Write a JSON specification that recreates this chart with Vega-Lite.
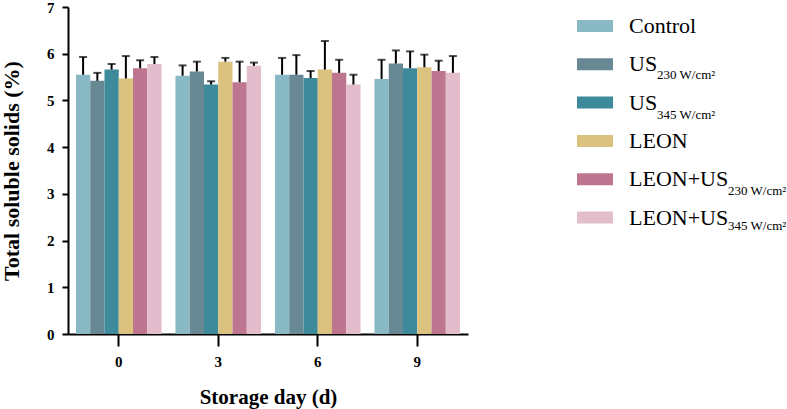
{
  "$schema": "https://vega.github.io/schema/vega-lite/v6.json",
  "width": 400,
  "height": 327,
  "padding": {"left": 0, "top": 0, "right": 5, "bottom": 5},
  "background": "white",
  "data": {
    "values": [
      {"day": "0", "treatment": "Control", "tsub": "Control", "mean": 5.55, "upper": 5.93},
      {"day": "0", "treatment": "US230", "tsub": "US230", "mean": 5.42, "upper": 5.59},
      {"day": "0", "treatment": "US345", "tsub": "US345", "mean": 5.66, "upper": 5.78},
      {"day": "0", "treatment": "LEON", "tsub": "LEON", "mean": 5.47, "upper": 5.95},
      {"day": "0", "treatment": "LEON+US230", "tsub": "LEON+US230", "mean": 5.69, "upper": 5.86},
      {"day": "0", "treatment": "LEON+US345", "tsub": "LEON+US345", "mean": 5.78, "upper": 5.93},
      {"day": "3", "treatment": "Control", "tsub": "Control", "mean": 5.53, "upper": 5.75},
      {"day": "3", "treatment": "US230", "tsub": "US230", "mean": 5.62, "upper": 5.83},
      {"day": "3", "treatment": "US345", "tsub": "US345", "mean": 5.34, "upper": 5.41},
      {"day": "3", "treatment": "LEON", "tsub": "LEON", "mean": 5.83, "upper": 5.91},
      {"day": "3", "treatment": "LEON+US230", "tsub": "LEON+US230", "mean": 5.39, "upper": 5.83},
      {"day": "3", "treatment": "LEON+US345", "tsub": "LEON+US345", "mean": 5.74, "upper": 5.81},
      {"day": "6", "treatment": "Control", "tsub": "Control", "mean": 5.55, "upper": 5.91},
      {"day": "6", "treatment": "US230", "tsub": "US230", "mean": 5.55, "upper": 5.97},
      {"day": "6", "treatment": "US345", "tsub": "US345", "mean": 5.48, "upper": 5.63},
      {"day": "6", "treatment": "LEON", "tsub": "LEON", "mean": 5.66, "upper": 6.27},
      {"day": "6", "treatment": "LEON+US230", "tsub": "LEON+US230", "mean": 5.59, "upper": 5.87},
      {"day": "6", "treatment": "LEON+US345", "tsub": "LEON+US345", "mean": 5.34, "upper": 5.55},
      {"day": "9", "treatment": "Control", "tsub": "Control", "mean": 5.46, "upper": 5.87},
      {"day": "9", "treatment": "US230", "tsub": "US230", "mean": 5.79, "upper": 6.07},
      {"day": "9", "treatment": "US345", "tsub": "US345", "mean": 5.69, "upper": 6.05},
      {"day": "9", "treatment": "LEON", "tsub": "LEON", "mean": 5.71, "upper": 5.98},
      {"day": "9", "treatment": "LEON+US230", "tsub": "LEON+US230", "mean": 5.63, "upper": 5.85},
      {"day": "9", "treatment": "LEON+US345", "tsub": "LEON+US345", "mean": 5.59, "upper": 5.95}
    ]
  },
  "config": {
    "view": {"stroke": null},
    "font": "Liberation Serif",
    "axis": {
      "domainColor": "black",
      "domainWidth": 2,
      "tickColor": "black",
      "tickWidth": 2,
      "labelColor": "black",
      "labelFont": "Liberation Serif",
      "labelFontWeight": "bold",
      "labelFontSize": 15,
      "titleFont": "Liberation Serif",
      "titleFontWeight": "bold",
      "titleFontSize": 21,
      "titleColor": "black",
      "grid": false
    },
    "legend": {
      "orient": "none",
      "legendX": 515,
      "symbolType": "M-1.5,-0.5H1.5V0.5H-1.5Z",
      "symbolSize": 576,
      "symbolStrokeWidth": 0,
      "labelFont": "Liberation Serif",
      "labelColor": "black",
      "labelLimit": 400,
      "rowPadding": 15.3
    }
  },
  "encoding": {
    "x": {
      "field": "day",
      "type": "ordinal",
      "title": "Storage day (d)",
      "scale": {"paddingInner": 0.14, "paddingOuter": 0.08},
      "axis": {"labelAngle": 0, "tickSize": 12, "labelPadding": 8, "titlePadding": 17}
    },
    "xOffset": {
      "field": "treatment",
      "type": "nominal",
      "sort": ["Control", "US230", "US345", "LEON", "LEON+US230", "LEON+US345"],
      "scale": {"paddingInner": 0, "paddingOuter": 0}
    }
  },
  "layer": [
    {
      "mark": {"type": "bar"},
      "encoding": {
        "y": {
          "field": "mean",
          "type": "quantitative",
          "title": "Total soluble solids (%)",
          "scale": {"domain": [0, 7], "nice": false},
          "axis": {"values": [0, 1, 2, 3, 4, 5, 6, 7], "tickSize": 6, "labelPadding": 8, "titlePadding": 23, "titleFontSize": 22}
        },
        "color": {
          "field": "treatment",
          "type": "nominal",
          "title": null,
          "scale": {
            "domain": ["Control", "US230", "US345", "LEON", "LEON+US230", "LEON+US345"],
            "range": ["#88b9c5", "#688894", "#3d8a9a", "#dbc27f", "#be7690", "#e3bdcb"]
          },
          "legend": {
            "legendY": 7,
            "symbolOpacity": 1,
            "labelFontSize": 22,
            "labelOffset": 22,
            "labelExpr": "datum.value == 'US230' || datum.value == 'US345' ? 'US' : datum.value == 'LEON+US230' || datum.value == 'LEON+US345' ? 'LEON+US' : datum.value"
          }
        }
      }
    },
    {
      "mark": {"type": "point", "opacity": 0, "filled": true},
      "encoding": {
        "y": {"field": "mean", "type": "quantitative"},
        "shape": {
          "field": "treatment",
          "type": "nominal",
          "title": null,
          "sort": ["Control", "US230", "US345", "LEON", "LEON+US230", "LEON+US345"],
          "scale": {"range": ["square", "square", "square", "square", "square", "square"]},
          "legend": {
            "legendY": 17,
            "symbolOpacity": 0,
            "labelFontSize": 13,
            "labelOffset": 50,
            "labelExpr": "datum.value == 'US230' ? '230 W/cm²' : datum.value == 'US345' ? '345 W/cm²' : ''"
          }
        },
        "strokeDash": {
          "field": "tsub",
          "type": "nominal",
          "title": null,
          "sort": ["Control", "US230", "US345", "LEON", "LEON+US230", "LEON+US345"],
          "scale": {"range": [[1, 0], [1, 0], [1, 0], [1, 0], [1, 0], [1, 0]]},
          "legend": {
            "legendY": 35,
            "symbolOpacity": 0,
            "labelFontSize": 13,
            "labelOffset": 121,
            "labelExpr": "datum.value == 'LEON+US230' ? '230 W/cm²' : datum.value == 'LEON+US345' ? '345 W/cm²' : ''"
          }
        }
      }
    },
    {
      "mark": {"type": "rule", "color": "black", "strokeWidth": 2},
      "encoding": {
        "y": {"field": "mean", "type": "quantitative"},
        "y2": {"field": "upper"}
      }
    },
    {
      "mark": {"type": "tick", "color": "black", "thickness": 2, "size": 8, "orient": "horizontal"},
      "encoding": {
        "y": {"field": "upper", "type": "quantitative"}
      }
    }
  ]
}
